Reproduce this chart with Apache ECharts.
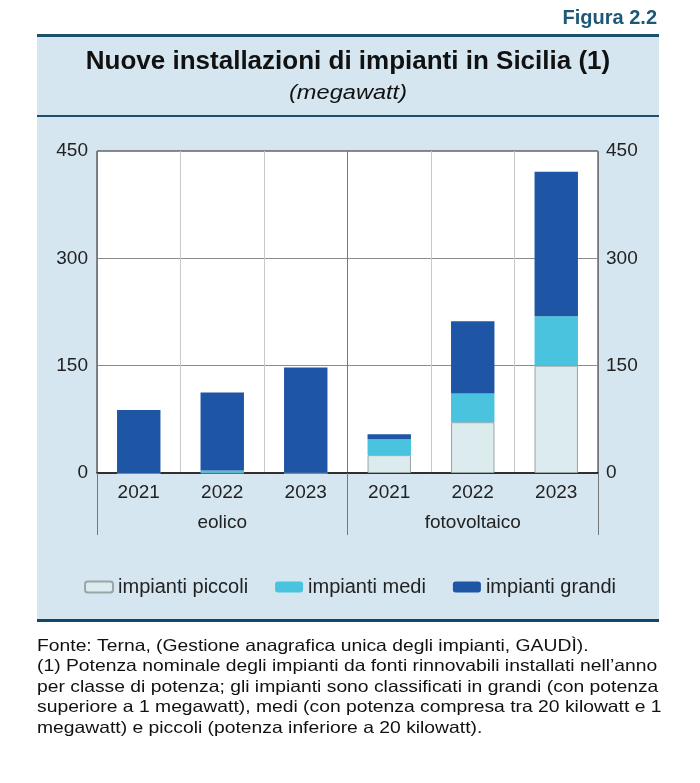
<!DOCTYPE html>
<html><head><meta charset="utf-8">
<script src="https://cdn.jsdelivr.net/npm/echarts@6/dist/echarts.min.js"></script>
<style>html,body{margin:0;padding:0;background:#fff}#c{width:700px;height:783px}</style>
</head><body><div id="c"></div>
<script>
const categories = ['2021', '2022', '2023', '2021', '2022', '2023'];
const groups = ['eolico', 'fotovoltaico'];
const seriesNames = ['impianti piccoli', 'impianti medi', 'impianti grandi'];
const piccoli = [0, 0.5, 0, 25, 71, 150];
const medi = [0, 3, 0.5, 22, 40, 69];
const grandi = [88, 109, 147, 7, 101, 202];
const yMin = 0, yMax = 450, yStep = 150;
const footnotes = [
  'Fonte: Terna, (Gestione anagrafica unica degli impianti, GAUDÌ).',
  '(1) Potenza nominale degli impianti da fonti rinnovabili installati nell\u2019anno',
  'per classe di potenza; gli impianti sono classificati in grandi (con potenza',
  'superiore a 1 megawatt), medi (con potenza compresa tra 20 kilowatt e 1',
  'megawatt) e piccoli (potenza inferiore a 20 kilowatt).'
];

const FONT = '"Liberation Sans", Arial, sans-serif';
const TXT = '#222';
const colors = ['#dcebee', '#49c3de', '#1f55a5'];
const borders = ['#9aa5a8', '#49c3de', '#1f55a5'];

const chart = echarts.init(document.getElementById('c'), null, {renderer: 'canvas'});

const yAxisCommon = {
  type: 'value', min: yMin, max: yMax, interval: yStep,
  axisLine: {show: false}, axisTick: {show: false},
  splitLine: {show: true, lineStyle: {color: '#8c8c8c', width: 1}},
  axisLabel: {color: TXT, fontFamily: FONT, fontSize: 19}
};

const graphic = [
  {type: 'rect', z: -100, shape: {x: 37, y: 35, width: 622, height: 586}, style: {fill: '#d5e6f0'}},
  {type: 'rect', z: -99, shape: {x: 37, y: 34, width: 622, height: 3}, style: {fill: '#1d4f6c'}},
  {type: 'rect', z: -99, shape: {x: 37, y: 115, width: 622, height: 2}, style: {fill: '#1d4f6c'}},
  {type: 'rect', z: -99, shape: {x: 37, y: 619, width: 622, height: 3}, style: {fill: '#0f4868'}},
  {type: 'text', x: 657, y: 18,
    style: {text: 'Figura 2.2', fill: '#1d5878', font: 'bold 20px ' + FONT, textAlign: 'right', textVerticalAlign: 'middle'}},
  {type: 'text', x: 348, y: 62,
    style: {text: 'Nuove installazioni di impianti in Sicilia (1)', fill: '#111', font: 'bold 26px ' + FONT, textAlign: 'center', textVerticalAlign: 'middle'}},
  {type: 'text', x: 348, y: 93, scaleX: 1.18,
    style: {text: '(megawatt)', fill: '#111', font: 'italic 20px ' + FONT, textAlign: 'center', textVerticalAlign: 'middle'}}
];
footnotes.forEach((t, i) => {
  graphic.push({type: 'text', x: 37, y: 646 + i * 20.5, scaleX: 1.17,
    style: {text: t, fill: '#111', font: '16.5px ' + FONT, textAlign: 'left', textVerticalAlign: 'middle'}});
});

const dataArr = [piccoli, medi, grandi];
const series = seriesNames.map((n, i) => ({
  name: n, type: 'bar', stack: 'tot', xAxisIndex: 0, yAxisIndex: 0,
  barWidth: '52%',
  itemStyle: {color: colors[i], borderColor: borders[i], borderWidth: i === 0 ? 1 : 0},
  data: dataArr[i]
}));

chart.setOption({
  animation: false,
  backgroundColor: '#ffffff',
  graphic: graphic,
  grid: {left: 97, right: 102, top: 151, bottom: 310, show: true, backgroundColor: '#ffffff', borderColor: '#222', borderWidth: 1},
  legend: {
    data: seriesNames, top: 572, left: 'center', itemWidth: 28, itemHeight: 11, itemGap: 27,
    icon: 'roundRect',
    textStyle: {color: TXT, fontFamily: FONT, fontSize: 20}
  },
  xAxis: [
    {type: 'category', data: categories, position: 'bottom',
      axisLine: {show: true, lineStyle: {color: '#111', width: 1.5}},
      axisTick: {show: false},
      splitLine: {show: true, lineStyle: {color: '#c8c8c8', width: 1}},
      axisLabel: {color: TXT, fontFamily: FONT, fontSize: 19, margin: 10}},
    {type: 'category', data: groups, position: 'bottom',
      axisLine: {show: false},
      axisTick: {show: true, length: 62, lineStyle: {color: '#777', width: 1}},
      splitLine: {show: true, lineStyle: {color: '#777', width: 1}},
      axisLabel: {color: TXT, fontFamily: FONT, fontSize: 19, margin: 40}}
  ],
  yAxis: [
    Object.assign({}, yAxisCommon, {position: 'left', axisLabel: Object.assign({}, yAxisCommon.axisLabel, {margin: 9})}),
    Object.assign({}, yAxisCommon, {position: 'right', splitLine: {show: false}, axisLabel: Object.assign({}, yAxisCommon.axisLabel, {margin: 8})})
  ],
  series: series
});
</script></body></html>
